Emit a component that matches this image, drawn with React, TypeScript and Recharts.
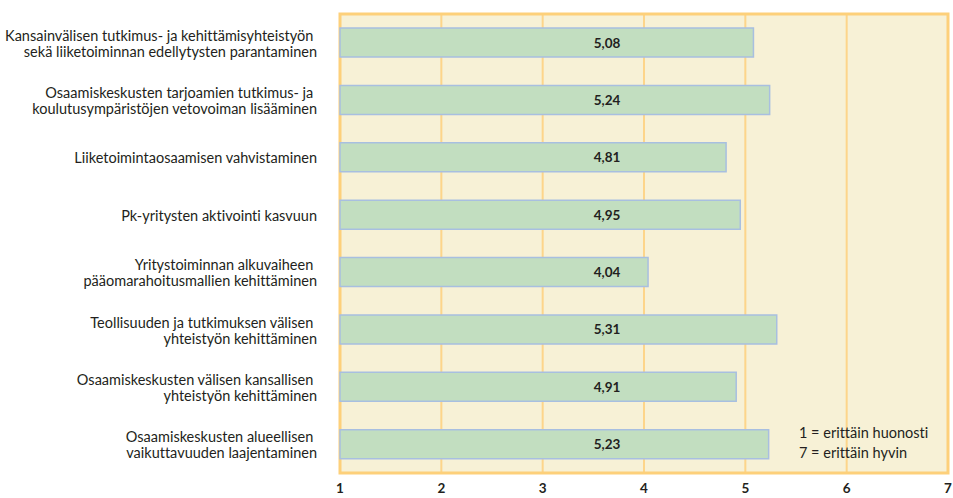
import React from 'react'
import {
  BarChart,
  Bar,
  XAxis,
  YAxis,
  CartesianGrid,
  ReferenceArea,
  LabelList,
} from 'recharts'

const categories = [
  'Kansainvälisen tutkimus- ja kehittämisyhteistyön \nsekä liiketoiminnan edellytysten parantaminen',
  'Osaamiskeskusten tarjoamien tutkimus- ja \nkoulutusympäristöjen vetovoiman lisääminen',
  'Liiketoimintaosaamisen vahvistaminen',
  'Pk-yritysten aktivointi kasvuun',
  'Yritystoiminnan alkuvaiheen \npääomarahoitusmallien kehittäminen',
  'Teollisuuden ja tutkimuksen välisen \nyhteistyön kehittäminen',
  'Osaamiskeskusten välisen kansallisen \nyhteistyön kehittäminen',
  'Osaamiskeskusten alueellisen \nvaikuttavuuden laajentaminen',
]

const scores = [5.08, 5.24, 4.81, 4.95, 4.04, 5.31, 4.91, 5.23]

const xTicks = [1, 2, 3, 4, 5, 6, 7]

const scaleNotes = ['1 = erittäin huonosti', '7 = erittäin hyvin']

const data = categories.map((name, i) => ({ name, score: scores[i] }))

const FONT = 'Lato, "Open Sans", sans-serif'
const TEXT = '#231f20'

if (typeof document !== 'undefined') {
  document.body.style.margin = '0'
}

// category label, split on \n, right aligned
const CategoryTick = (props: any) => {
  const { x, y, payload } = props
  const lines: string[] = String(payload.value).split('\n')
  const lh = 16
  const startY = y - ((lines.length - 1) * lh) / 2
  return (
    <text
      x={x - 15}
      y={startY}
      textAnchor="end"
      fontFamily={FONT}
      fontSize={14.5}
      fill={TEXT}
      dominantBaseline="central"
      style={{ fontVariantLigatures: 'none' }}
    >
      {lines.map((l, i) => (
        <tspan key={i} x={x - 15} y={startY + i * lh}>
          {l}
        </tspan>
      ))}
    </text>
  )
}

// value label sits at a fixed spot inside every bar
const ValueLabel = (props: any) => {
  const { x, y, height, value } = props
  return (
    <text
      x={x + 267}
      y={y + height / 2}
      textAnchor="middle"
      dominantBaseline="central"
      fontFamily={FONT}
      fontWeight={700}
      fontSize={13.5}
      fill={TEXT}
    >
      {Number(value).toFixed(2).replace('.', ',')}
    </text>
  )
}

export default function App() {
  return (
    <div style={{ position: 'relative', width: 953, height: 498, background: '#fff' }}>
      <BarChart
        width={953}
        height={498}
        data={data}
        layout="vertical"
        margin={{ top: 14, right: 5, bottom: 0, left: 0 }}
        barSize={29}
      >
        <CartesianGrid
          horizontal={false}
          fill="#f7f1d6"
          stroke="#fdd58a"
          strokeWidth={2}
        />
        <XAxis
          type="number"
          domain={[1, 7]}
          ticks={xTicks}
          height={25}
          axisLine={false}
          tickLine={false}
          tickMargin={4}
          interval={0}
          tick={{ fontFamily: FONT, fontWeight: 700, fontSize: 13.5, fill: TEXT }}
        />
        <YAxis
          type="category"
          dataKey="name"
          width={340}
          axisLine={false}
          tickLine={false}
          interval={0}
          tick={<CategoryTick />}
        />
        <Bar
          dataKey="score"
          fill="#c2dec0"
          stroke="#a8bfe0"
          strokeWidth={1.5}
          isAnimationActive={false}
        >
          <LabelList dataKey="score" content={<ValueLabel />} />
        </Bar>
        <ReferenceArea
          x1={1}
          x2={7}
          fill="none"
          fillOpacity={0}
          stroke="#fdd07a"
          strokeWidth={3}
          ifOverflow="visible"
        />
      </BarChart>
      <div
        style={{
          position: 'absolute',
          left: 799,
          top: 423,
          fontFamily: FONT,
          fontSize: 14.5,
          lineHeight: '20px',
          color: TEXT,
          fontVariantLigatures: 'none',
        }}
      >
        {scaleNotes.map((n) => (
          <div key={n}>{n}</div>
        ))}
      </div>
    </div>
  )
}
